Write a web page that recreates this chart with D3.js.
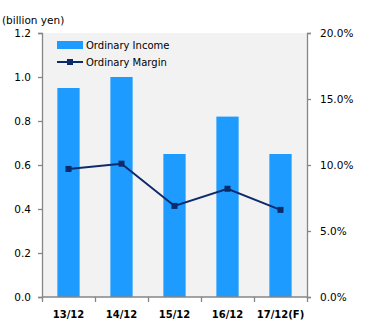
<!DOCTYPE html>
<html>
<head>
<meta charset="utf-8">
<script src="https://cdn.jsdelivr.net/npm/d3@7.9.0/dist/d3.min.js"></script>
<style>
  body { margin: 0; background: #fff; }
  svg { display: block; font-family: "DejaVu Sans", sans-serif; }
</style>
</head>
<body>
<svg id="chart" width="365" height="333"></svg>
<script>
const categories = ["13/12", "14/12", "15/12", "16/12", "17/12(F)"];
const incomeValues = [0.95, 1.0, 0.65, 0.82, 0.65];
const marginValues = [9.7, 10.1, 6.9, 8.2, 6.6];
const leftTicks = [0, 0.2, 0.4, 0.6, 0.8, 1.0, 1.2];
const rightTicks = [0, 5, 10, 15, 20];

const margin = { top: 33, right: 58, bottom: 36, left: 42 };
const width = 365 - margin.left - margin.right;
const height = 333 - margin.top - margin.bottom;

const svg = d3.select("#chart");
const g = svg.append("g").attr("transform", `translate(${margin.left},${margin.top})`);

const x = d3.scaleBand().domain(categories).range([0, width]).paddingInner(0.58).paddingOuter(0.29);
const xEdges = d3.scaleLinear().domain([0, categories.length]).range([0, width]);
const yLeft = d3.scaleLinear().domain([0, 1.2]).range([height, 0]);
const yRight = d3.scaleLinear().domain([0, 20]).range([height, 0]);

// plot background
g.append("rect")
  .attr("width", width)
  .attr("height", height)
  .attr("fill", "#f2f2f2");

// bars
g.selectAll(".bar")
  .data(incomeValues)
  .join("rect")
  .attr("class", "bar")
  .attr("x", (d, i) => x(categories[i]))
  .attr("width", x.bandwidth())
  .attr("y", (d) => yLeft(d))
  .attr("height", (d) => height - yLeft(d))
  .attr("fill", "#1e9bff");

// margin line
const cx = (i) => x(categories[i]) + x.bandwidth() / 2;
const line = d3.line()
  .x((d, i) => cx(i))
  .y((d) => yRight(d));

g.append("path")
  .datum(marginValues)
  .attr("d", line)
  .attr("fill", "none")
  .attr("stroke", "#0d2a6b")
  .attr("stroke-width", 2);

g.selectAll(".marker")
  .data(marginValues)
  .join("rect")
  .attr("class", "marker")
  .attr("x", (d, i) => cx(i) - 3)
  .attr("y", (d) => yRight(d) - 3)
  .attr("width", 6)
  .attr("height", 6)
  .attr("fill", "#0d2a6b");

// axes
const axisColor = "#868686";

const leftAxis = g.append("g")
  .call(d3.axisLeft(yLeft).tickValues(leftTicks).tickFormat(d3.format(".1f")).tickSize(4).tickPadding(7));

const rightAxis = g.append("g")
  .attr("transform", `translate(${width},0)`)
  .call(d3.axisRight(yRight).tickValues(rightTicks).tickFormat((d) => d.toFixed(1) + "%").tickSize(4).tickPadding(9));

const bottomAxis = g.append("g")
  .attr("transform", `translate(0,${height})`)
  .call(d3.axisBottom(xEdges).tickValues(d3.range(categories.length + 1)).tickFormat("").tickSize(5));

[leftAxis, rightAxis, bottomAxis].forEach((a) => {
  a.select(".domain").attr("stroke", axisColor).attr("stroke-width", 1.3);
  a.selectAll(".tick line").attr("stroke", axisColor).attr("stroke-width", 1.3);
  a.selectAll("text").attr("fill", "#000").attr("font-size", 10.5).attr("font-family", "DejaVu Sans");
});
bottomAxis.select(".domain").attr("d", `M0,0H${width}`);

// category labels
g.selectAll(".xlabel")
  .data(categories)
  .join("text")
  .attr("class", "xlabel")
  .attr("x", (d) => x(d) + x.bandwidth() / 2)
  .attr("y", height + 21)
  .attr("text-anchor", "middle")
  .attr("font-size", 10)
  .attr("font-weight", "bold")
  .attr("fill", "#000")
  .text((d) => d);

// unit label
svg.append("text")
  .attr("x", 2)
  .attr("y", 24)
  .attr("font-size", 10.5)
  .attr("fill", "#000")
  .text("(billion yen)");

// legend
const legend = g.append("g").attr("transform", "translate(15,8)");
legend.append("rect")
  .attr("x", 0).attr("y", 0).attr("width", 26).attr("height", 8)
  .attr("fill", "#1e9bff");
legend.append("text")
  .attr("x", 29).attr("y", 8)
  .attr("font-size", 10).attr("fill", "#000")
  .text("Ordinary Income");
legend.append("line")
  .attr("x1", 0).attr("x2", 26).attr("y1", 21).attr("y2", 21)
  .attr("stroke", "#0d2a6b").attr("stroke-width", 2);
legend.append("rect")
  .attr("x", 10).attr("y", 18).attr("width", 6).attr("height", 6)
  .attr("fill", "#0d2a6b");
legend.append("text")
  .attr("x", 29).attr("y", 25)
  .attr("font-size", 10).attr("fill", "#000")
  .text("Ordinary Margin");
</script>
</body>
</html>
